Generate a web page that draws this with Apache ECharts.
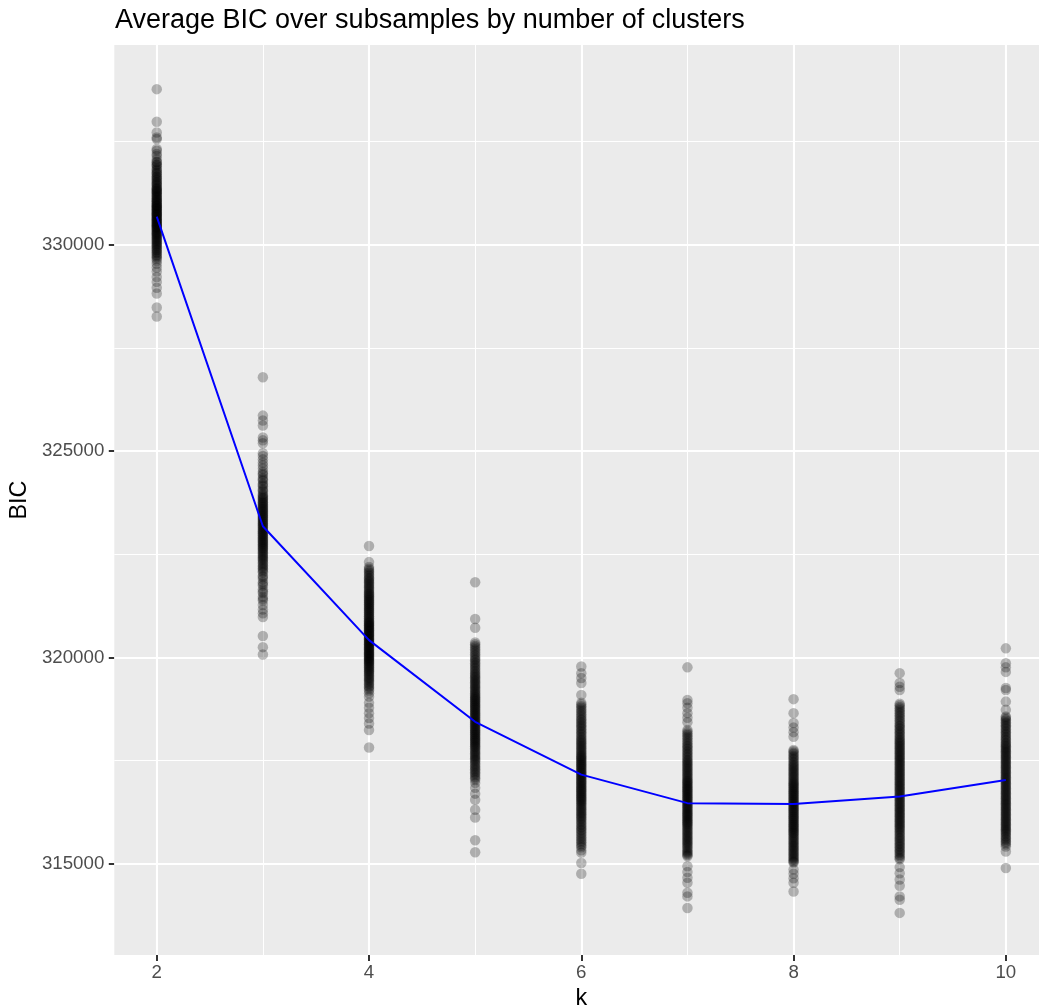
<!DOCTYPE html>
<html>
<head>
<meta charset="utf-8">
<script src="https://cdn.jsdelivr.net/npm/echarts@6/dist/echarts.min.js"></script>
<style>
html,body{margin:0;padding:0;background:#fff;}
#chart{width:1039px;height:1008px;}
</style>
</head>
<body>
<div id="chart"></div>
<script>
// ---- data ----
const kValues = [2, 3, 4, 5, 6, 7, 8, 9, 10];
const xTicks = [2, 4, 6, 8, 10];
const xMinor = [3, 5, 7, 9];
const yTicks = [315000, 320000, 325000, 330000];
const yMinor = [317500, 322500, 327500, 332500];
const meanBIC = [330680, 323180, 320420, 318440, 317160, 316470, 316450, 316630, 317030];

const bicK2 = [333770, 332980, 332720, 332600, 332560, 332320, 332280, 332200, 332150, 332070, 332000, 331950, 331900, 331850, 331790, 331750, 331700, 331660, 331610, 331560, 331520, 331480, 331430, 331390, 331350, 331310, 331270, 331230, 331200, 331160, 331120, 331080, 331040, 331000, 330960, 330930, 330890, 330860, 330820, 330790, 330750, 330720, 330680, 330640, 330610, 330570, 330540, 330500, 330470, 330430, 330390, 330350, 330300, 330260, 330220, 330170, 330120, 330070, 330020, 329970, 329910, 329860, 329800, 329730, 329660, 329610, 329540, 329450, 329350, 329220, 329100, 328960, 328820, 328480, 328260,
  332010, 331930, 331820, 331730, 331640, 331580, 331500, 331450, 331370, 331330, 331290, 331250, 331180, 331130, 331090, 331050, 331010, 330970, 330940, 330900, 330870, 330840, 330800, 330760, 330730, 330700, 330660, 330620, 330590, 330550, 330510, 330480, 330440, 330410, 330370, 330320, 330280, 330240, 330190, 330140, 330090, 330040, 329990, 329940, 329880, 329820, 329760, 329700];
const bicK3 = [326790, 325860, 325740, 325620, 325330, 325260, 325190, 324950, 324880, 324800, 324720, 324650, 324580, 324500, 324420, 324350, 324280, 324210, 324150, 324080, 324020, 323960, 323900, 323850, 323790, 323740, 323690, 323640, 323590, 323540, 323490, 323440, 323390, 323340, 323290, 323240, 323190, 323140, 323090, 323040, 322990, 322940, 322890, 322840, 322790, 322740, 322690, 322640, 322580, 322520, 322460, 322400, 322340, 322270, 322200, 322130, 322060, 321980, 321900, 321820, 321740, 321650, 321560, 321470, 321380, 321270, 321160, 321070, 320980, 320520, 320250, 320070,
  324450, 324310, 324180, 324050, 323930, 323870, 323820, 323760, 323710, 323660, 323610, 323560, 323510, 323460, 323410, 323360, 323310, 323260, 323210, 323160, 323110, 323060, 323010, 322960, 322910, 322860, 322810, 322760, 322710, 322660, 322610, 322550, 322490, 322430, 322370, 322300, 322230, 322160, 322090, 321950, 321780, 321600, 321420];
const bicK4 = [322700, 322310, 322190, 322120, 322050, 321980, 321910, 321850, 321790, 321730, 321670, 321610, 321550, 321500, 321450, 321400, 321350, 321300, 321250, 321200, 321150, 321100, 321050, 321000, 320950, 320900, 320860, 320820, 320780, 320740, 320700, 320660, 320620, 320580, 320540, 320500, 320460, 320420, 320380, 320340, 320300, 320260, 320220, 320180, 320140, 320100, 320060, 320020, 319980, 319940, 319900, 319860, 319810, 319760, 319710, 319660, 319600, 319540, 319480, 319420, 319350, 319280, 319200, 319130, 319050, 318900, 318780, 318650, 318530, 318400, 318240, 317820,
  322150, 322080, 322010, 321940, 321880, 321820, 321760, 321700, 321640, 321580, 321530, 321480, 321430, 321380, 321330, 321280, 321230, 321180, 321130, 321080, 321030, 320980, 320930, 320880, 320840, 320800, 320760, 320720, 320680, 320640, 320600, 320560, 320520, 320480, 320440, 320400, 320360, 320320, 320280, 320240, 320200, 320160, 320120, 320080, 320040, 320000, 319960, 319920, 319880, 319830, 319780, 319730, 319680, 319630, 319570, 319510, 319450, 319380, 319310, 319240];
const bicK5 = [321820, 320930, 320720, 320360, 320280, 320200, 320120, 320040, 319960, 319890, 319820, 319750, 319680, 319610, 319550, 319490, 319430, 319370, 319310, 319250, 319190, 319130, 319080, 319030, 318980, 318930, 318880, 318830, 318780, 318730, 318680, 318630, 318580, 318530, 318480, 318430, 318380, 318330, 318280, 318230, 318180, 318130, 318080, 318030, 317980, 317930, 317880, 317830, 317770, 317710, 317650, 317590, 317530, 317470, 317400, 317330, 317260, 317190, 317110, 317030, 316960, 316840, 316700, 316550, 316310, 316120, 315570, 315280,
  320320, 320240, 320160, 320080, 320000, 319930, 319860, 319790, 319720, 319650, 319580, 319520, 319460, 319400, 319340, 319280, 319220, 319160, 319100, 319050, 319000, 318950, 318900, 318850, 318800, 318750, 318700, 318650, 318600, 318550, 318500, 318450, 318400, 318350, 318300, 318250, 318200, 318150, 318100, 318050, 318000, 317950, 317900, 317850, 317800, 317740, 317680, 317620, 317560, 317500, 317430, 317360, 317290, 317220, 317150, 317070];
const bicK6 = [319780, 319620, 319500, 319380, 319090, 318900, 318820, 318740, 318660, 318580, 318500, 318430, 318360, 318290, 318220, 318150, 318080, 318010, 317950, 317890, 317830, 317770, 317710, 317650, 317600, 317550, 317500, 317450, 317400, 317350, 317300, 317250, 317200, 317150, 317100, 317050, 317000, 316950, 316900, 316850, 316800, 316750, 316700, 316650, 316600, 316550, 316500, 316440, 316380, 316320, 316260, 316200, 316140, 316080, 316010, 315940, 315870, 315800, 315720, 315640, 315560, 315480, 315400, 315330, 315270, 315020, 314760,
  318860, 318780, 318700, 318620, 318540, 318470, 318400, 318330, 318260, 318190, 318120, 318050, 317980, 317920, 317860, 317800, 317740, 317680, 317620, 317570, 317520, 317470, 317420, 317370, 317320, 317270, 317220, 317170, 317120, 317070, 317020, 316970, 316920, 316870, 316820, 316770, 316720, 316670, 316620, 316570, 316520, 316470, 316410, 316350, 316290, 316230, 316170, 316110, 316040, 315970, 315900, 315830, 315760, 315680, 315600, 315520, 315440];
const bicK7 = [319760, 318970, 318890, 318780, 318650, 318540, 318430, 318240, 318160, 318080, 318000, 317920, 317850, 317780, 317710, 317640, 317570, 317500, 317440, 317380, 317320, 317260, 317200, 317140, 317080, 317020, 316970, 316920, 316870, 316820, 316770, 316720, 316670, 316620, 316570, 316520, 316470, 316420, 316370, 316320, 316270, 316220, 316170, 316120, 316070, 316020, 315970, 315920, 315860, 315800, 315740, 315680, 315620, 315560, 315500, 315440, 315370, 315300, 315240, 315180, 314940, 314800, 314660, 314540, 314300, 314210, 313930,
  318200, 318120, 318040, 317960, 317880, 317810, 317740, 317670, 317600, 317530, 317470, 317410, 317350, 317290, 317230, 317170, 317110, 317050, 317000, 316950, 316900, 316850, 316800, 316750, 316700, 316650, 316600, 316550, 316500, 316450, 316400, 316350, 316300, 316250, 316200, 316150, 316100, 316050, 316000, 315950, 315890, 315830, 315770, 315710, 315650, 315590, 315530, 315470, 315400, 315330, 315270, 315210];
const bicK8 = [318990, 318650, 318410, 318300, 318190, 318080, 317760, 317690, 317620, 317550, 317480, 317410, 317350, 317290, 317230, 317170, 317110, 317050, 316990, 316940, 316890, 316840, 316790, 316740, 316690, 316640, 316590, 316540, 316490, 316440, 316390, 316340, 316290, 316240, 316190, 316140, 316090, 316040, 315990, 315940, 315890, 315840, 315790, 315740, 315680, 315620, 315560, 315500, 315440, 315380, 315320, 315260, 315200, 315140, 315080, 315030, 314860, 314760, 314650, 314540, 314330,
  317730, 317660, 317590, 317520, 317450, 317380, 317320, 317260, 317200, 317140, 317080, 317020, 316960, 316910, 316860, 316810, 316760, 316710, 316660, 316610, 316560, 316510, 316460, 316410, 316360, 316310, 316260, 316210, 316160, 316110, 316060, 316010, 315960, 315910, 315860, 315810, 315760, 315710, 315650, 315590, 315530, 315470, 315410, 315350, 315290, 315230, 315170, 315110, 315050];
const bicK9 = [319620, 319380, 319290, 319210, 318880, 318800, 318720, 318640, 318560, 318480, 318400, 318330, 318260, 318190, 318120, 318050, 317980, 317920, 317860, 317800, 317740, 317680, 317620, 317560, 317500, 317440, 317380, 317320, 317260, 317200, 317140, 317080, 317020, 316960, 316900, 316840, 316780, 316720, 316660, 316600, 316540, 316480, 316420, 316360, 316300, 316240, 316180, 316120, 316060, 316000, 315940, 315880, 315820, 315750, 315680, 315610, 315540, 315470, 315400, 315330, 315260, 315180, 315110, 314920, 314770, 314620, 314470, 314210, 314130, 313810,
  318840, 318760, 318680, 318600, 318520, 318440, 318360, 318290, 318220, 318150, 318080, 318010, 317950, 317890, 317830, 317770, 317710, 317650, 317590, 317530, 317470, 317410, 317350, 317290, 317230, 317170, 317110, 317050, 316990, 316930, 316870, 316810, 316750, 316690, 316630, 316570, 316510, 316450, 316390, 316330, 316270, 316210, 316150, 316090, 316030, 315970, 315910, 315850, 315780, 315710, 315640, 315570, 315500, 315430, 315360, 315290, 315220, 315140];
const bicK10 = [320220, 319860, 319760, 319650, 319260, 319210, 318930, 318730, 318570, 318500, 318430, 318360, 318290, 318220, 318150, 318080, 318010, 317940, 317880, 317820, 317760, 317700, 317640, 317580, 317520, 317460, 317400, 317340, 317280, 317220, 317160, 317100, 317040, 316980, 316920, 316860, 316800, 316740, 316680, 316620, 316560, 316500, 316440, 316380, 316320, 316260, 316200, 316140, 316080, 316020, 315960, 315900, 315840, 315780, 315720, 315650, 315580, 315510, 315420, 315300, 314900,
  318540, 318470, 318400, 318330, 318260, 318190, 318120, 318050, 317980, 317910, 317850, 317790, 317730, 317670, 317610, 317550, 317490, 317430, 317370, 317310, 317250, 317190, 317130, 317070, 317010, 316950, 316890, 316830, 316770, 316710, 316650, 316590, 316530, 316470, 316410, 316350, 316290, 316230, 316170, 316110, 316050, 315990, 315930, 315870, 315810, 315750, 315680, 315610, 315540, 315470];

const bicByK = [bicK2, bicK3, bicK4, bicK5, bicK6, bicK7, bicK8, bicK9, bicK10];

// ---- build ----
const pointData = [];
bicByK.forEach((arr, i) => arr.forEach(v => pointData.push([kValues[i], v])));
const meanData = kValues.map((k, i) => [k, meanBIC[i]]);

const majorStyle = { color: '#FFFFFF', width: 2.1, type: 'solid' };
const minorStyle = { color: '#FFFFFF', width: 1.05, type: 'solid' };
const gridLines = [];
xMinor.forEach(v => gridLines.push({ xAxis: v, lineStyle: minorStyle }));
yMinor.forEach(v => gridLines.push({ yAxis: v, lineStyle: minorStyle }));
xTicks.forEach(v => gridLines.push({ xAxis: v, lineStyle: majorStyle }));
yTicks.forEach(v => gridLines.push({ yAxis: v, lineStyle: majorStyle }));

const FONT = '"Liberation Sans", Arial, sans-serif';

const chart = echarts.init(document.getElementById('chart'), null, { renderer: 'canvas' });
chart.setOption({
  animation: false,
  backgroundColor: '#FFFFFF',
  title: {
    text: 'Average BIC over subsamples by number of clusters',
    left: 115, top: 7, padding: 0,
    textStyle: { color: '#000000', fontSize: 27, fontWeight: 'normal', fontFamily: FONT, lineHeight: 27 }
  },
  grid: {
    left: 114.3, top: 45, width: 934, bottom: 53,
    show: true, backgroundColor: '#EBEBEB', borderWidth: 0,
    containLabel: false, outerBoundsMode: 'none'
  },
  xAxis: {
    type: 'value', min: 1.6, max: 10.4,
    name: 'k', nameLocation: 'middle', nameGap: 29,
    nameTextStyle: { color: '#000000', fontSize: 23.4, fontFamily: FONT },
    axisLine: { show: false },
    splitLine: { show: false },
    axisTick: { show: true, customValues: xTicks, length: 6, lineStyle: { color: '#333333', width: 2 } },
    axisLabel: { customValues: xTicks, margin: 8, color: '#4D4D4D', fontSize: 18.7, fontFamily: FONT, formatter: v => String(v) }
  },
  yAxis: {
    type: 'value', min: 312790, max: 334840,
    name: 'BIC', nameLocation: 'middle', nameGap: 77, nameRotate: 90,
    nameTextStyle: { color: '#000000', fontSize: 23.4, fontFamily: FONT },
    axisLine: { show: false },
    splitLine: { show: false },
    axisTick: { show: true, customValues: yTicks, length: 5.5, lineStyle: { color: '#333333', width: 2 } },
    axisLabel: { customValues: yTicks, margin: 10, color: '#4D4D4D', fontSize: 18.7, fontFamily: FONT, formatter: v => String(v) }
  },
  series: [
    {
      type: 'scatter', name: 'grid', data: [], z: 1, silent: true,
      markLine: { silent: true, z: 1, zlevel: 0, symbol: ['none', 'none'], label: { show: false }, animation: false, data: gridLines }
    },
    {
      type: 'scatter', name: 'BIC', data: pointData, z: 3,
      symbol: 'circle', symbolSize: 10.5, large: false,
      itemStyle: { color: 'rgba(0,0,0,0.33)', borderWidth: 0 }
    },
    {
      type: 'line', name: 'mean', data: meanData, z: 4,
      showSymbol: false, symbol: 'none',
      lineStyle: { color: '#0000FF', width: 2 }
    }
  ]
});
</script>
</body>
</html>
